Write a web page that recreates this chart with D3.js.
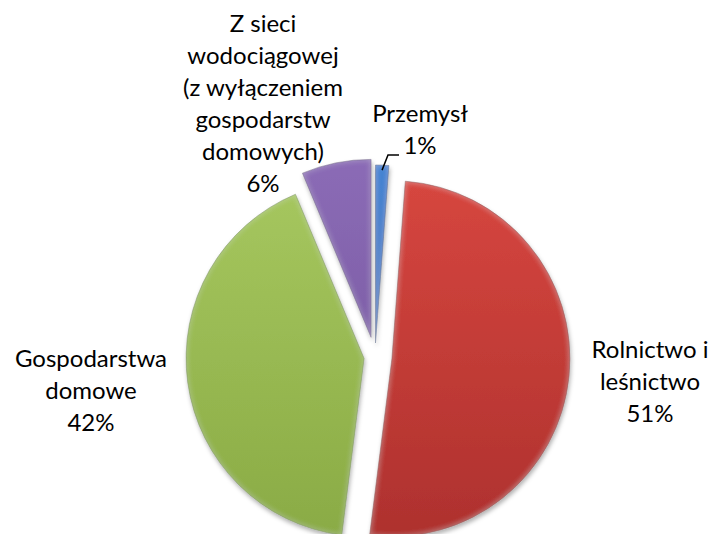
<!DOCTYPE html>
<html>
<head>
<meta charset="utf-8">
<script src="https://cdn.jsdelivr.net/npm/d3@7/dist/d3.min.js"></script>
<style>
  html, body { margin: 0; padding: 0; background: #fff; }
  .Chart-text { font-family: Lato, "Open Sans", sans-serif; font-size: 24px; fill: #000; text-anchor: middle; }
</style>
</head>
<body>
<div id="chart"></div>
<script>
var categories = ['Przemysł', 'Rolnictwo i leśnictwo', 'Gospodarstwa domowe', 'Z sieci wodociągowej (z wyłączeniem gospodarstw domowych)'];
var shares = [1.2, 50.8, 41.7, 6.3];
var labelLines = [
  ['Przemysł'],
  ['Rolnictwo i', 'leśnictwo'],
  ['Gospodarstwa', 'domowe'],
  ['Z sieci', 'wodociągowej', '(z wyłączeniem', 'gospodarstw', 'domowych)']
];

var w = 711, h = 534;
var cx = 375, cy = 357, radius = 178;
var lineHeight = 32;

// how far each slice is pulled out of the pie
var explode = [14, 17, 11, 20];

// slice colours: top / bottom of the gradient, and edge
var colors = [
  ['#4383d2', '#2f62a8', '#1f4577'],
  ['#d6463f', '#ae312e', '#7a201e'],
  ['#a6c75f', '#8aab45', '#5d7a2a'],
  ['#8b6bb6', '#72549a', '#4e386d']
];

// where each label block is centred and its first baseline
var labelAt = [
  { x: 420, y: 122 },
  { x: 650, y: 358 },
  { x: 91, y: 367 },
  { x: 263, y: 32 }
];

var svg = d3.select('#chart').append('svg')
  .attr('width', w)
  .attr('height', h);

var defs = svg.append('defs');

colors.forEach(function(c, i) {
  var g = defs.append('linearGradient')
    .attr('id', 'grad' + i)
    .attr('gradientUnits', 'userSpaceOnUse')
    .attr('x1', 0).attr('y1', -radius)
    .attr('x2', 0).attr('y2', radius);
  g.append('stop').attr('offset', '0%').attr('stop-color', c[0]);
  g.append('stop').attr('offset', '100%').attr('stop-color', c[1]);
});

// light rim inside the edges + drop shadow
var f = defs.append('filter')
  .attr('id', 'bevel')
  .attr('filterUnits', 'userSpaceOnUse')
  .attr('x', -300).attr('y', -300)
  .attr('width', 600).attr('height', 600);
f.append('feGaussianBlur').attr('in', 'SourceAlpha').attr('stdDeviation', 3).attr('result', 'blur');
f.append('feComposite').attr('in', 'SourceAlpha').attr('in2', 'blur').attr('operator', 'out').attr('result', 'rim');
f.append('feFlood').attr('flood-color', '#fff').attr('flood-opacity', 0.22).attr('result', 'white');
f.append('feComposite').attr('in', 'white').attr('in2', 'rim').attr('operator', 'in').attr('result', 'glow');
f.append('feGaussianBlur').attr('in', 'SourceAlpha').attr('stdDeviation', 2).attr('result', 'sblur');
f.append('feOffset').attr('in', 'sblur').attr('dx', 1).attr('dy', 2.5).attr('result', 'soff');
f.append('feFlood').attr('flood-color', '#000').attr('flood-opacity', 0.3).attr('result', 'sfl');
f.append('feComposite').attr('in', 'sfl').attr('in2', 'soff').attr('operator', 'in').attr('result', 'shadow');
var merge = f.append('feMerge');
merge.append('feMergeNode').attr('in', 'shadow');
merge.append('feMergeNode').attr('in', 'SourceGraphic');
merge.append('feMergeNode').attr('in', 'glow');

var pie = d3.pie().sort(null).value(function(d) { return d; });
var arcs = pie(shares);

var arc = d3.arc().innerRadius(0).outerRadius(radius);

var offset = function(d, i) {
  var a = (d.startAngle + d.endAngle) / 2;
  return [Math.sin(a) * explode[i], -Math.cos(a) * explode[i]];
};

var pieG = svg.append('g')
  .attr('class', 'Pie')
  .attr('transform', 'translate(' + cx + ',' + cy + ')');

pieG.selectAll('path')
  .data(arcs)
  .enter()
  .append('path')
  .attr('transform', function(d, i) {
    var o = offset(d, i);
    return 'translate(' + o[0] + ',' + o[1] + ')';
  })
  .attr('d', arc)
  .attr('fill', function(d, i) { return 'url(#grad' + i + ')'; })
  .attr('stroke', function(d, i) { return colors[i][2]; })
  .attr('stroke-opacity', 0.6)
  .attr('stroke-width', 0.8)
  .attr('stroke-linejoin', 'round')
  .attr('filter', 'url(#bevel)');

// leader line for the small slice
var small = arcs[0];
var so = offset(small, 0);
var sa = (small.startAngle + small.endAngle) / 2;
var sx = cx + so[0] + Math.sin(sa) * (radius - 5);
var sy = cy + so[1] - Math.cos(sa) * (radius - 5);
svg.append('polyline')
  .attr('points', [
    [sx, sy],
    [labelAt[0].x - 32, labelAt[0].y + lineHeight + 1],
    [labelAt[0].x - 21, labelAt[0].y + lineHeight + 1]
  ].join(' '))
  .attr('fill', 'none')
  .attr('stroke', '#000')
  .attr('stroke-width', 1.5);

var labels = svg.append('g').attr('class', 'Labels');
labels.selectAll('text')
  .data(arcs)
  .enter()
  .append('text')
  .attr('class', 'Chart-text')
  .attr('x', function(d, i) { return labelAt[i].x; })
  .attr('y', function(d, i) { return labelAt[i].y; })
  .each(function(d, i) {
    var t = d3.select(this);
    var lines = labelLines[i].concat([Math.round(d.value) + '%']);
    lines.forEach(function(line, j) {
      t.append('tspan')
        .attr('x', labelAt[i].x)
        .attr('dy', j === 0 ? 0 : lineHeight)
        .text(line);
    });
  });
</script>
</body>
</html>
